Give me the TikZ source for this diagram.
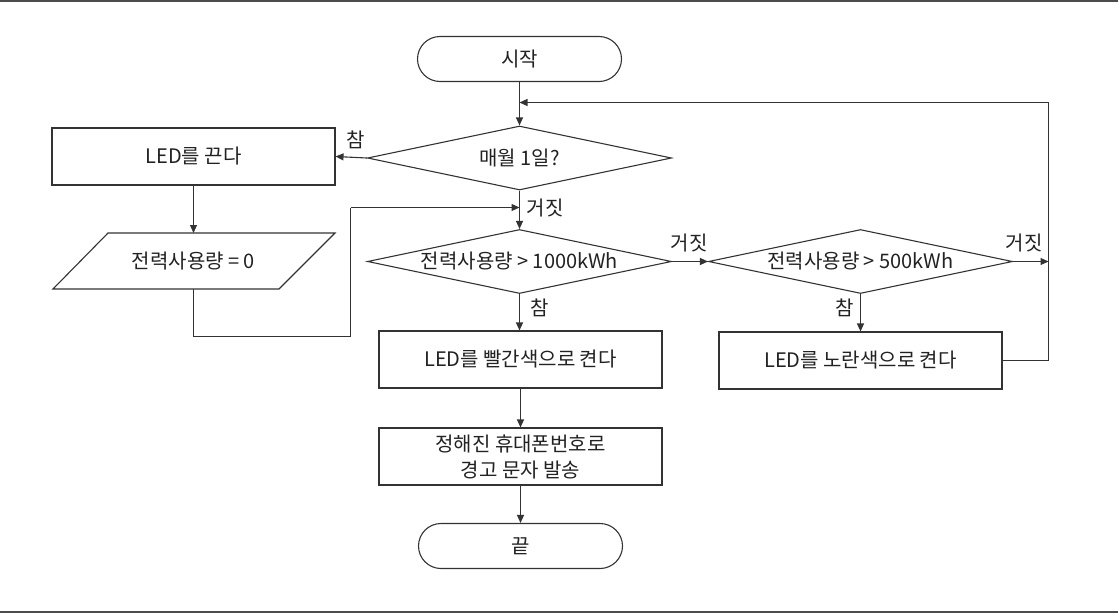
\documentclass[tikz,border=0pt]{standalone}
\usepackage{fontspec}
\setmainfont{Noto Sans CJK KR}
\usetikzlibrary{shapes.geometric,shapes.misc,arrows.meta}
\definecolor{ln}{HTML}{333333}
\definecolor{tx}{HTML}{222222}
\tikzset{
  every node/.style={font=\fontsize{20}{26}\selectfont, text=tx},
  box/.style={draw=ln, line width=1.1pt, rectangle, minimum width=283pt, minimum height=57pt, inner sep=0pt, fill=white},
  term/.style={draw=ln, line width=1.1pt, rounded rectangle, minimum width=204pt, minimum height=45pt, inner sep=0pt},
  dia/.style={draw=ln, line width=1.1pt, diamond, minimum width=304pt, minimum height=64pt, inner sep=0pt},
  conn/.style={draw=ln, line width=1.1pt, -{Triangle[length=8pt,width=7pt]}},
  plain/.style={draw=ln, line width=1.1pt},
  lbl/.style={inner sep=0pt},
}
\begin{document}
\begin{tikzpicture}[x=1pt,y=-1pt]
\useasboundingbox (0,0) rectangle (1118,613);
\draw[gray!60!black, line width=2pt] (0,1) -- (1118,1);
\draw[gray!60!black, line width=2pt] (0,612) -- (1118,612);

\node[term] (start) at (519.5,59) {시작};
\node[dia] (d1) at (519.5,158) {};
\node (d1t) at (519.5,158) {매월 1일?};
\node[box] (off) at (193.5,156.5) {LED를 끈다};
\coordinate (ptop) at (193.5,233);
\coordinate (pbot) at (193.5,289);
\draw[plain] (108,233) -- (335,233) -- (279,289) -- (53,289) -- cycle;
\node (pt) at (193.5,261) {전력사용량 = 0};
\node[dia] (d2) at (519.5,261.5) {};
\node (d2t) at (519.5,261.5) {전력사용량 > 1000kWh};
\node[dia] (d3) at (860.5,261.5) {};
\node (d3t) at (860.5,261.5) {전력사용량 > 500kWh};
\node[box] (red) at (520.5,359.5) {LED를 빨간색으로 켠다};
\node[box] (yel) at (860.5,360.5) {LED를 노란색으로 켠다};
\node[box, align=center] (msg) at (520.5,456.5) {정해진 휴대폰번호로\\경고 문자 발송};
\node[term] (end) at (520.5,546) {끝};

\coordinate (j1) at (519.5,102.5);
\coordinate (rtop) at (1048.5,102.5);
\coordinate (rmid) at (1048.5,261.5);
\coordinate (rbot) at (1048.5,360.5);
\coordinate (j2) at (519.5,207.5);
\coordinate (l1) at (193.5,336.5);
\coordinate (l2) at (350.5,336.5);
\coordinate (l3) at (350.5,207.5);
\coordinate (c2) at (519.5,293.5);
\coordinate (c3) at (519.5,331);
\coordinate (c4) at (520.5,388);
\coordinate (c5) at (520.5,485);

\draw[conn] (start.south) -- (d1.north);
\draw[conn] (rbot) -| (rtop) -- (j1);
\draw[plain] (yel.east) -- (rbot);
\draw[conn] (d1.west) -- (off.east);
\draw[conn] (off.south) -- (ptop);
\draw[plain] (pbot) -- (l1) -- (l2) -- (l3);
\draw[conn] (l3) -- (j2);
\draw[conn] (d1.south) -- (d2.north);
\draw[conn] (d2.east) -- (d3.west);
\draw[conn] (d3.east) -- (rmid);
\draw[conn] (d2.south) -- (d2.south |- red.north);
\draw[conn] (d3.south) -- (yel.north);
\draw[conn] (red.south) -- (msg.north);
\draw[conn] (msg.south) -- (end.north);

\node[lbl] (t1) at (356,140) {참};
\node[lbl] (f1) at (545,208) {거짓};
\node[lbl] (f2) at (689,243) {거짓};
\node[lbl] (t2) at (540,308) {참};
\node[lbl] (f3) at (1024,243) {거짓};
\node[lbl] (t3) at (845,308) {참};
\end{tikzpicture}
\end{document}
